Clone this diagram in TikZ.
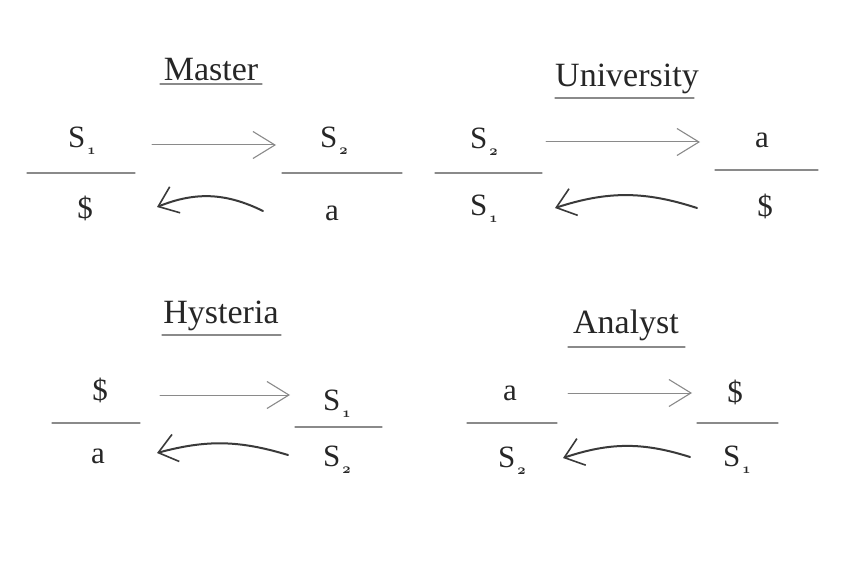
\documentclass[tikz,border=0pt]{standalone}
\usepackage{fontspec}
\setmainfont{Liberation Serif}
\usetikzlibrary{arrows.meta}
\definecolor{cink}{HTML}{262626}
\definecolor{cline}{HTML}{8A8A8A}
\definecolor{carrow}{HTML}{3A3A3A}
\newcommand\idx[1]{\kern2pt\raisebox{-7pt}{\fontsize{15}{15}\selectfont{\usefont{OML}{cmm}{b}{it}#1}}}
\tikzset{
  every picture/.style={x=1pt, y=-1pt, line cap=round},
  title/.style={anchor=base, inner sep=0pt, text=cink, font=\fontsize{34}{36}\selectfont},
  term/.style={anchor=base, inner sep=0pt, text=cink, font=\fontsize{31}{34}\selectfont},
  uline/.style={draw=cline, line width=1.3pt},
  bar/.style={draw=cline, line width=1.2pt},
  fwd/.style={draw=cline, line width=1pt, -{Straight Barb[length=22pt, width=27pt, line width=1.1pt]}},
  back/.style={draw=carrow, line width=2pt, -{Straight Barb[length=18pt, width=28pt, line width=1.6pt]}},
}
\begin{document}
\begin{tikzpicture}
  \useasboundingbox (0,0) rectangle (849,564);
  % top left: master
  \begin{scope}
    \node[title] (mas-t) at (211,81) {Master};
    \draw[uline] (160,84) -- (262,84);
    \node[term] (mas-1) at (82,148) {S\idx{1}};
    \node[term] (mas-2) at (334,148) {S\idx{2}};
    \node[term] (mas-3) at (85,219) {\$};
    \node[term] (mas-4) at (332,221) {a};
    \draw[bar] (27,173) -- (135,173);
    \draw[bar] (282,173) -- (402,173);
    \coordinate (mas-f1) at (152,145); \coordinate (mas-f2) at (276,145);
    \coordinate (mas-b1) at (263,211); \coordinate (mas-b2) at (157,207);
    \draw[fwd] (mas-f1) -- (mas-f2);
    \draw[back] (mas-b1) to[bend right=24] (mas-b2);
  \end{scope}
  % top right: university
  \begin{scope}
    \node[title] (uni-t) at (627,87) {University};
    \draw[uline] (555,98) -- (694,98);
    \node[term] (uni-1) at (484,149) {S\idx{2}};
    \node[term] (uni-2) at (762,148) {a};
    \node[term] (uni-3) at (484,216) {S\idx{1}};
    \node[term] (uni-4) at (765,217) {\$};
    \draw[bar] (435,173) -- (542,173);
    \draw[bar] (715,170) -- (818,170);
    \coordinate (uni-f1) at (546,142); \coordinate (uni-f2) at (700,142);
    \coordinate (uni-b1) at (697,208); \coordinate (uni-b2) at (555,208);
    \draw[fwd] (uni-f1) -- (uni-f2);
    \draw[back] (uni-b1) to[bend right=18] (uni-b2);
  \end{scope}
  % bottom left: hysteria
  \begin{scope}
    \node[title] (hys-t) at (221,323) {Hysteria};
    \draw[uline] (162,335) -- (281,335);
    \node[term] (hys-1) at (100,400) {\$};
    \node[term] (hys-2) at (337,410) {S\idx{1}};
    \node[term] (hys-3) at (98,463) {a};
    \node[term] (hys-4) at (337,466) {S\idx{2}};
    \draw[bar] (52,423) -- (140,423);
    \draw[bar] (295,427) -- (382,427);
    \coordinate (hys-f1) at (160,395); \coordinate (hys-f2) at (290,395);
    \coordinate (hys-b1) at (288,455); \coordinate (hys-b2) at (157,453);
    \draw[fwd] (hys-f1) -- (hys-f2);
    \draw[back] (hys-b1) to[bend right=16] (hys-b2);
  \end{scope}
  % bottom right: analyst
  \begin{scope}
    \node[title] (ana-t) at (626,333) {Analyst};
    \draw[uline] (568,347) -- (685,347);
    \node[term] (ana-1) at (510,400) {a};
    \node[term] (ana-2) at (735,402) {\$};
    \node[term] (ana-3) at (512,467) {S\idx{2}};
    \node[term] (ana-4) at (737,466) {S\idx{1}};
    \draw[bar] (467,423) -- (557,423);
    \draw[bar] (697,423) -- (778,423);
    \coordinate (ana-f1) at (568,393); \coordinate (ana-f2) at (692,393);
    \coordinate (ana-b1) at (690,457); \coordinate (ana-b2) at (563,458);
    \draw[fwd] (ana-f1) -- (ana-f2);
    \draw[back] (ana-b1) to[bend right=18] (ana-b2);
  \end{scope}
\end{tikzpicture}
\end{document}
